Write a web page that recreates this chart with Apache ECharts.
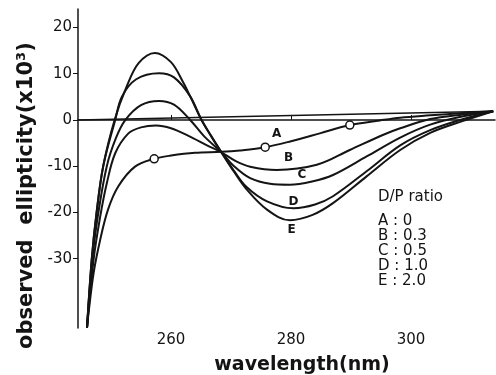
<!DOCTYPE html>
<html>
<head>
<meta charset="utf-8">
<title>ellipticity</title>
<script src="https://cdn.jsdelivr.net/npm/echarts@6/dist/echarts.min.js"></script>
<style>
  html, body { margin: 0; padding: 0; background: #fff; }
  #chart { width: 496px; height: 375px; }
</style>
</head>
<body>
<div id="chart"></div>
<script>
  // values: [wavelength nm, ellipticity x10^3]
  var curveA = [[246,-45],[246.2,-42.4],[247.1,-33.1],[248.2,-25.9],[249.5,-19.4],[251.2,-14.4],[254,-10.1],[257.2,-8.4],[260,-7.7],[264,-7.1],[268.4,-6.9],[271.5,-6.6],[275.7,-5.9],[280,-4.6],[284.8,-2.9],[289.8,-1.1],[294.8,-0.1],[298.2,0.5],[303.2,1.0],[308.7,1.5],[313.7,1.9]];
  var curveB = [[246,-45],[247.1,-30.2],[248.2,-20.9],[249.3,-13.7],[250.7,-7.2],[252.9,-2.9],[255,-1.6],[257.5,-1.2],[260,-1.8],[263,-3.5],[266,-5.5],[268.4,-7],[270.8,-8.9],[273.2,-10.1],[277.6,-10.8],[284.3,-9.7],[289.8,-6.5],[295.4,-3.2],[298.2,-1.8],[303.2,0.2],[308.7,1.2],[313.7,1.9]];
  var curveC = [[246,-45],[246.9,-30],[247.9,-20],[249.3,-10],[250.8,-4],[252.4,0],[255,3.2],[258,4.1],[260.5,3.3],[263.2,0],[265.5,-3.5],[268.4,-7],[270.5,-10],[273.2,-12.6],[276.5,-13.8],[279.8,-14],[283.5,-13.3],[287,-11.9],[292.6,-7.9],[298.2,-3.8],[303.2,-1.0],[308.7,0.8],[313.7,1.9]];
  var curveD = [[246,-45],[246.8,-30],[247.6,-20],[248.7,-10],[250.7,0],[251.8,5],[254.2,8.8],[258,10.1],[260.5,9.2],[263.2,5.1],[265,0.2],[266.7,-3.5],[268.4,-7],[270.5,-11],[272.6,-14.5],[276,-17.6],[280.4,-19.1],[284,-18.3],[287,-16.5],[292.6,-11.1],[298.2,-5.5],[303.2,-2.2],[308.7,0.2],[313.7,1.9]];
  var curveE = [[246,-45],[246.8,-30],[247.6,-20],[248.7,-10],[250.6,0],[252.6,7.2],[254.6,12.3],[257.3,14.5],[260,12.5],[262,8.2],[263.2,5.1],[265.1,0],[266.7,-3.5],[268.4,-7],[270.5,-11.2],[272.6,-15],[276,-19.4],[279.8,-21.7],[283.5,-20.6],[287,-18],[292.6,-12.2],[298.2,-6.5],[303.2,-2.8],[308.7,-0.2],[313.7,1.9]];
  var baseLine = [[244.5,0],[313.7,1.9]];
  var openCircles = [[257.2,-8.4],[275.7,-5.9],[289.8,-1.1]];
  var curveTags = [['A',277.6,-3.1],['B',279.6,-8.3],['C',281.8,-11.9],['D',280.4,-17.7],['E',280.1,-23.8]];
  var xTicks = [260, 280, 300];
  var yTicks = [-30, -20, -10, 0, 10, 20];
  var ratioNames = ['A', 'B', 'C', 'D', 'E'];
  var ratioValues = ['0', '0.3', '0.5', '1.0', '2.0'];

  var ink = '#141414';
  var font = 'DejaVu Sans';

  function curve(name, data) {
    return {
      name: name, type: 'line', data: data, smooth: 0.35,
      symbol: 'none', clip: true,
      lineStyle: { color: ink, width: 2 }
    };
  }

  var ratioLines = [];
  for (var i = 0; i < ratioNames.length; i++) {
    ratioLines.push(ratioNames[i] + ' : ' + ratioValues[i]);
  }

  var chart = echarts.init(document.getElementById('chart'));
  chart.setOption({
    animation: false,
    backgroundColor: '#fff',
    grid: { left: 78, right: 1, top: 9, bottom: 47, containLabel: false, outerBoundsMode: 'none' },
    xAxis: {
      type: 'value', min: 244.5, max: 314,
      name: 'wavelength(nm)', nameLocation: 'middle', nameGap: 28,
      nameTextStyle: { color: ink, fontFamily: font, fontSize: 19, fontWeight: 'bold', padding: [0, 0, 0, 31] },
      axisLine: { lineStyle: { color: ink, width: 1.5 } },
      axisTick: { inside: true, length: 5, customValues: xTicks, lineStyle: { color: ink } },
      axisLabel: { customValues: xTicks, color: ink, fontFamily: font, fontSize: 15, margin: 5 },
      splitLine: { show: false }
    },
    yAxis: {
      type: 'value', min: -45, max: 24,
      name: 'observed  ellipticity(x10³)', nameLocation: 'middle', nameGap: 38,
      nameTextStyle: { color: ink, fontFamily: font, fontSize: 21, fontWeight: 'bold', padding: [0, 54, 0, 0] },
      axisLine: { lineStyle: { color: ink, width: 1.5 } },
      axisTick: { length: 5, customValues: yTicks, lineStyle: { color: ink } },
      axisLabel: { customValues: yTicks, color: ink, fontFamily: font, fontSize: 15, margin: 6 },
      splitLine: { show: false }
    },
    series: [
      { name: 'baseline', type: 'line', data: baseLine, symbol: 'none', lineStyle: { color: ink, width: 1.5 } },
      curve('A', curveA),
      curve('B', curveB),
      curve('C', curveC),
      curve('D', curveD),
      curve('E', curveE),
      {
        name: 'points', type: 'scatter', data: openCircles, symbol: 'circle', symbolSize: 8, z: 5,
        itemStyle: { color: '#fff', borderColor: ink, borderWidth: 1.5, opacity: 1 }
      },
      {
        name: 'tags', type: 'scatter', symbolSize: 1, z: 6,
        itemStyle: { color: 'rgba(0,0,0,0)', opacity: 1 },
        data: curveTags.map(function (t) { return { name: t[0], value: [t[1], t[2]] }; }),
        label: {
          show: true, position: 'inside', formatter: '{b}', opacity: 1,
          color: ink, fontFamily: font, fontSize: 12, fontWeight: 'bold'
        }
      }
    ],
    graphic: [
      {
        type: 'text', left: 378, top: 190,
        style: { text: 'D/P ratio', fill: ink, font: '15px ' + font }
      },
      {
        type: 'text', left: 378, top: 214,
        style: { text: ratioLines.join('\n'), fill: ink, font: '15px ' + font, lineHeight: 15 }
      }
    ]
  });
</script>
</body>
</html>
